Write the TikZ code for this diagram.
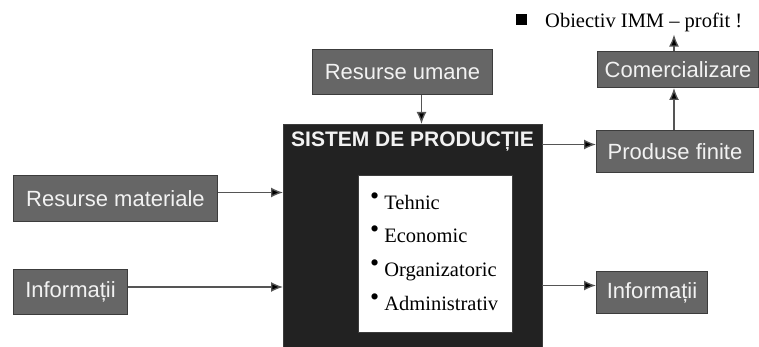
\documentclass[tikz,border=0pt]{standalone}
\usepackage{fontspec}
\setmainfont{Liberation Serif}
\setsansfont{Liberation Sans}
\usetikzlibrary{arrows.meta}

\definecolor{boxgray}{HTML}{666666}
\definecolor{boxedge}{HTML}{3C3C3C}
\definecolor{boxtext}{HTML}{F2F2F2}
\definecolor{sysblack}{HTML}{222222}
\definecolor{linegray}{HTML}{555555}

\tikzset{
  gbox/.style={draw=boxedge, line width=1pt, fill=boxgray, text=boxtext,
    font=\sffamily\fontsize{22}{24}\selectfont, inner sep=0pt, anchor=north west},
  item/.style={anchor=base west, inner sep=0pt, font=\fontsize{20.5}{22}\selectfont},
  arr/.style={draw=linegray, line width=1.3pt, -{Latex[length=12pt,width=10pt,fill=black]}},
}
\newcommand{\punct}{\raisebox{5pt}{\fontsize{26}{26}\selectfont\textbullet}\hspace{5pt}}

\begin{document}
\begin{tikzpicture}[x=1pt,y=-1pt]
  \useasboundingbox (0,0) rectangle (759,347);
  % sistemul central
  \node[fill=sysblack, draw=boxedge, inner sep=0pt, anchor=north west,
    minimum width=259pt, minimum height=226pt] (sistem) at (283,124) {};
  \node[anchor=base, inner sep=0pt, text=boxtext,
    font=\sffamily\bfseries\fontsize{21}{24}\selectfont] (titlu) at (412.5,147) {SISTEM DE PRODUCȚIE};
  \node[fill=white, draw=boxedge, inner sep=0pt, anchor=north west,
    minimum width=154pt, minimum height=157pt] (lista) at (358,175) {};
  \node[item] (tehnic) at (370,209) {\punct Tehnic};
  \node[item] (economic) at (370,242) {\punct Economic};
  \node[item] (organiz) at (370,276) {\punct Organizatoric};
  \node[item] (admin) at (370,310) {\punct Administrativ};
  % intrari
  \node[gbox, minimum width=180pt, minimum height=45pt] (umane) at (312,49) {Resurse umane};
  \node[gbox, minimum width=204pt, minimum height=46pt] (materiale) at (13,175) {Resurse materiale};
  \node[gbox, minimum width=114pt, minimum height=45pt] (infin) at (13,269) {Informații};
  % iesiri
  \node[gbox, minimum width=157pt, minimum height=42pt] (produse) at (596,130) {Produse finite};
  \node[gbox, minimum width=111pt, minimum height=42pt] (infout) at (596,271) {Informații};
  \node[gbox, minimum width=161pt, minimum height=36pt] (comert) at (597,51) {Comercializare};
  \node[fill=black, inner sep=0pt, minimum size=11pt] (patrat) at (521,20) {};
  \node[anchor=base west, inner sep=2pt, font=\fontsize{20.5}{22}\selectfont] (obiectiv) at (543,28) {Obiectiv IMM -- profit !};
  % legaturi
  \draw[arr] ([xshift=19pt]umane.south) -- ([xshift=19pt]umane.south |- sistem.north);
  \draw[arr] ([yshift=6pt]materiale.east) -- ([yshift=6pt]materiale.east -| sistem.west);
  \draw[arr] ([yshift=5pt]infin.east) -- ([yshift=5pt]infin.east -| sistem.west);
  \draw[arr] ([yshift=7pt]produse.west -| sistem.east) -- ([yshift=7pt]produse.west);
  \draw[arr] ([yshift=7pt]infout.west -| sistem.east) -- ([yshift=7pt]infout.west);
  \draw[arr] ([xshift=-1pt]produse.north) -- ([xshift=-1pt]produse.north |- comert.south);
  \draw[arr] ([xshift=-1pt]produse.north |- comert.north) -- ([xshift=-1pt]produse.north |- obiectiv.south);
\end{tikzpicture}
\end{document}
